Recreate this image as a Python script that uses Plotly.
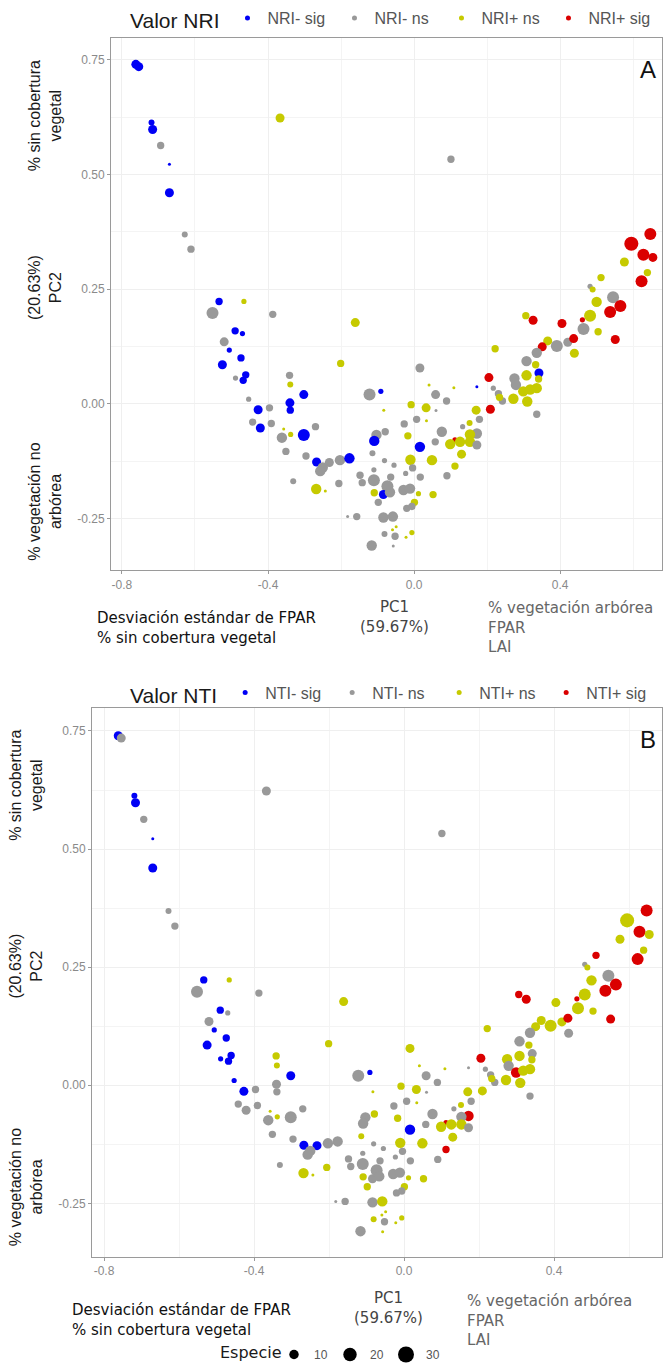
import math
import plotly.graph_objects as go

# ---------------- data (PCA scores, same sites in both panels) ----------------
pc1 = [-0.762, -0.754, -0.719, -0.716, -0.694, -0.670, -0.670, -0.367, 0.101, -0.628,
       -0.611, -0.534, -0.466, -0.552, -0.387, -0.161, -0.490, -0.470, -0.520, -0.506,
       -0.474, -0.201, -0.525, -0.461, -0.489, -0.468, -0.341, -0.339, -0.302, -0.122,
       -0.091, -0.453, -0.340, -0.396, -0.427, -0.339, -0.083, -0.442, -0.391, -0.270,
       -0.421, -0.357, -0.362, -0.338, -0.302, -0.079, -0.103, -0.109, -0.351, -0.296,
       -0.267, -0.232, -0.250, -0.257, -0.203, -0.177, -0.114, -0.081, -0.055, -0.110,
       -0.148, -0.110, -0.206, -0.331, -0.142, -0.073, -0.064, -0.268, -0.243, -0.109,
       -0.084, -0.066, -0.098, -0.182, -0.157, -0.084, -0.058, -0.059, -0.049, -0.081,
       -0.052, -0.057, -0.116, 0.016, -0.008, 0.033, 0.007, -0.027, -0.017, 0.016,
       -0.010, -0.004, 0.017, -0.023, -0.029, -0.011, 0.012, 0.001, -0.020, -0.006,
       -0.006, -0.022, 0.647, 0.595, 0.628, 0.654, 0.576, 0.512, 0.639, 0.623,
       0.482, 0.489, 0.545, 0.500, 0.565, 0.537, 0.482, 0.461, 0.464, 0.504,
       0.551, 0.306, 0.326, 0.405, 0.366, 0.391, 0.421, 0.437, 0.351, 0.439,
       0.336, 0.308, 0.333, 0.222, 0.205, 0.342, 0.308, 0.275, 0.341, 0.279,
       0.299, 0.318, 0.336, 0.272, 0.310, 0.217, 0.231, 0.242, 0.234, 0.336,
       0.209, 0.041, 0.109, 0.172, 0.059, 0.089, 0.060, 0.179, 0.170, 0.034,
       0.152, 0.076, 0.133, 0.172, 0.153, 0.112, 0.126, 0.099, 0.058, 0.153,
       0.172, 0.049, 0.052, 0.090, 0.112, 0.130]

pc2 = [0.740, 0.735, 0.613, 0.598, 0.563, 0.522, 0.460, 0.623, 0.533, 0.369,
       0.337, 0.223, 0.223, 0.198, 0.195, 0.177, 0.159, 0.153, 0.135, 0.117,
       0.100, 0.088, 0.085, 0.063, 0.056, 0.051, 0.062, 0.042, 0.020, 0.020,
       0.027, 0.010, 0.002, -0.009, -0.013, -0.014, -0.014, -0.040, -0.043, -0.050,
       -0.053, -0.055, -0.074, -0.067, -0.068, -0.061, -0.068, -0.081, -0.104, -0.114,
       -0.127, -0.128, -0.139, -0.147, -0.123, -0.119, -0.108, -0.124, -0.134, -0.144,
       -0.156, -0.167, -0.174, -0.169, -0.172, -0.180, -0.160, -0.186, -0.190, -0.194,
       -0.198, -0.193, -0.215, -0.246, -0.246, -0.248, -0.246, -0.275, -0.268, -0.284,
       -0.289, -0.310, -0.309, 0.078, -0.002, -0.009, -0.034, -0.044, -0.070, -0.094,
       -0.122, -0.140, -0.160, -0.152, -0.188, -0.185, -0.196, -0.215, -0.228, -0.224,
       -0.281, -0.291, 0.370, 0.349, 0.325, 0.319, 0.309, 0.275, 0.286, 0.267,
       0.256, 0.249, 0.232, 0.222, 0.213, 0.200, 0.192, 0.183, 0.163, 0.157,
       0.140, 0.192, 0.182, 0.175, 0.137, 0.126, 0.134, 0.142, 0.124, 0.110,
       0.111, 0.093, 0.085, 0.120, 0.057, 0.067, 0.062, 0.055, 0.054, 0.041,
       0.027, 0.031, 0.034, 0.011, 0.005, 0.034, 0.022, 0.006, 0.014, -0.023,
       -0.012, 0.041, 0.035, 0.037, 0.020, 0.006, -0.015, -0.034, -0.014, -0.037,
       -0.042, -0.061, -0.050, -0.065, -0.067, -0.079, -0.083, -0.088, -0.083, -0.083,
       -0.090, -0.123, -0.198, -0.157, -0.136, -0.110]

especie = [9, 9, 4, 9, 6, 1, 9, 9, 6, 4,
           6, 6, 3, 16, 6, 9, 6, 3, 9, 3,
           6, 6, 9, 6, 3, 6, 6, 4, 9, 16,
           3, 3, 9, 6, 9, 6, 1, 6, 6, 6,
           9, 1, 12, 3, 16, 6, 12, 12, 6, 6,
           9, 9, 12, 12, 12, 12, 4, 3, 3, 3,
           6, 16, 6, 4, 6, 16, 6, 12, 1, 6,
           9, 12, 6, 1, 6, 12, 12, 1, 1, 4,
           6, 1, 12, 9, 6, 9, 6, 6, 6, 12,
           12, 6, 6, 3, 12, 12, 3, 6, 6, 6,
           3, 1, 16, 22, 16, 9, 9, 6, 6, 16,
           3, 4, 16, 12, 16, 16, 16, 3, 16, 6,
           9, 6, 9, 9, 9, 16, 9, 9, 9, 9,
           12, 12, 6, 6, 9, 9, 12, 12, 6, 12,
           12, 12, 12, 12, 12, 3, 6, 6, 6, 6,
           9, 1, 1, 1, 9, 6, 1, 6, 9, 1,
           4, 12, 3, 12, 12, 3, 12, 12, 6, 12,
           9, 12, 6, 6, 6, 9]

# class index: 0 = "- sig", 1 = "- ns", 2 = "+ ns", 3 = "+ sig"
nri_class = [0, 0, 0, 0, 1, 0, 0, 2, 1, 1,
             1, 0, 2, 1, 1, 2, 0, 0, 1, 0,
             0, 2, 0, 0, 1, 0, 1, 2, 0, 1,
             0, 1, 0, 1, 0, 0, 2, 1, 1, 1,
             0, 2, 1, 2, 0, 1, 1, 0, 1, 1,
             0, 1, 1, 1, 1, 0, 1, 1, 1, 1,
             1, 1, 1, 1, 1, 1, 1, 2, 2, 2,
             0, 1, 1, 1, 1, 1, 1, 2, 2, 1,
             1, 1, 1, 1, 2, 2, 1, 1, 2, 0,
             2, 1, 1, 1, 1, 1, 2, 2, 1, 1,
             2, 2, 3, 3, 3, 3, 2, 2, 2, 3,
             1, 2, 1, 2, 3, 3, 2, 3, 1, 2,
             3, 2, 3, 3, 2, 1, 1, 3, 3, 2,
             1, 1, 2, 2, 3, 0, 2, 1, 2, 1,
             2, 2, 2, 2, 2, 1, 1, 1, 2, 1,
             3, 2, 2, 0, 1, 1, 1, 1, 2, 2,
             2, 1, 1, 1, 2, 3, 2, 2, 1, 2,
             1, 2, 2, 1, 2, 2]

nti_class = [0, 1, 0, 0, 1, 0, 0, 1, 1, 1,
             1, 0, 2, 1, 1, 2, 0, 1, 1, 0,
             0, 2, 0, 0, 0, 0, 2, 2, 0, 1,
             0, 0, 1, 1, 0, 1, 2, 1, 1, 1,
             1, 2, 1, 2, 1, 2, 1, 1, 1, 1,
             0, 0, 1, 1, 1, 1, 2, 1, 1, 1,
             1, 1, 2, 1, 1, 1, 1, 2, 2, 2,
             1, 1, 2, 1, 1, 1, 2, 2, 2, 2,
             1, 2, 1, 2, 2, 2, 1, 1, 2, 0,
             2, 1, 1, 1, 1, 1, 2, 2, 1, 1,
             2, 2, 3, 2, 3, 2, 2, 3, 2, 3,
             1, 2, 1, 2, 3, 3, 2, 3, 2, 2,
             3, 3, 3, 2, 2, 2, 2, 3, 2, 1,
             1, 1, 2, 2, 3, 1, 2, 2, 2, 1,
             3, 2, 2, 2, 2, 1, 1, 1, 2, 1,
             2, 2, 2, 1, 1, 1, 1, 1, 2, 2,
             2, 1, 1, 3, 1, 3, 2, 2, 1, 2,
             1, 2, 2, 1, 3, 2]

nri_labels = ["NRI- sig", "NRI- ns", "NRI+ ns", "NRI+ sig"]
nti_labels = ["NTI- sig", "NTI- ns", "NTI+ ns", "NTI+ sig"]
size_breaks = [10, 20, 30]
x_ticks = [-0.8, -0.4, 0.0, 0.4]
x_minor = [-0.6, -0.2, 0.2, 0.6]
y_ticks = [-0.25, 0.0, 0.25, 0.5, 0.75]
y_minor = [-0.125, 0.125, 0.375, 0.625]

# ---------------- styling ----------------
W, H = 669, 1369
class_colors = ["#0000F5", "#999999", "#C6CA00", "#DA0000"]
SIZE_K = 3.0


def dsize(v):
    return SIZE_K * math.sqrt(v)


def px(xp):
    return xp / W


def py(yp):
    return 1 - yp / H


TICKFONT = dict(family="Liberation Sans, Arial", size=12, color="#8A8A8A")
TXT = "DejaVu Sans, Verdana, sans-serif"
ARIAL = "Liberation Sans, Arial, sans-serif"

fig = go.Figure()

panels = [
    dict(cls=nri_class, labels=nri_labels, xa="x", ya="y", legend="legend"),
    dict(cls=nti_class, labels=nti_labels, xa="x2", ya="y2", legend="legend2"),
]

for p in panels:
    fig.add_trace(go.Scatter(
        x=pc1, y=pc2, mode="markers", xaxis=p["xa"], yaxis=p["ya"],
        marker=dict(size=[dsize(v) for v in especie],
                    color=[class_colors[c] for c in p["cls"]],
                    line=dict(width=0), opacity=1),
        showlegend=False, hoverinfo="skip"))
    for i, lab in enumerate(p["labels"]):
        fig.add_trace(go.Scatter(
            x=[None], y=[None], mode="markers", xaxis=p["xa"], yaxis=p["ya"],
            marker=dict(size=5, color=class_colors[i]), name=lab,
            legend=p["legend"], showlegend=True))

for v in size_breaks:
    fig.add_trace(go.Scatter(
        x=[None], y=[None], mode="markers", xaxis="x2", yaxis="y2",
        marker=dict(size=dsize(v), color="black"), name=str(v),
        legend="legend3", showlegend=True))

axis_common = dict(showline=True, linecolor="#9A9A9A", linewidth=1, mirror=True,
                   ticks="outside", ticklen=3, tickcolor="#9A9A9A", tickwidth=1,
                   showgrid=True, gridcolor="#EFEFEF", gridwidth=1, zeroline=False,
                   tickfont=TICKFONT)

xr_a = [-0.830, 0.679]
xr_b = [-0.832, 0.688]
yr = [-0.363, 0.798]

legend_font = dict(family=ARIAL, size=16, color="#555555")

fig.update_layout(
    width=W, height=H, margin=dict(l=0, r=0, t=0, b=0),
    paper_bgcolor="white", plot_bgcolor="white",
    xaxis=dict(domain=[px(111), px(662)], range=xr_a, anchor="y", tickvals=x_ticks,
               ticktext=["-0.8", "-0.4", "0.0", "0.4"],
               minor=dict(tickvals=x_minor, showgrid=True, gridcolor="#F4F4F4", ticks=""),
               **axis_common),
    yaxis=dict(domain=[py(574), py(38)], range=yr, anchor="x", tickvals=y_ticks,
               ticktext=["-0.25", "0.00", "0.25", "0.50", "0.75"],
               minor=dict(tickvals=y_minor, showgrid=True, gridcolor="#F4F4F4", ticks=""),
               **axis_common),
    xaxis2=dict(domain=[px(92), px(662)], range=xr_b, anchor="y2", tickvals=x_ticks,
                ticktext=["-0.8", "-0.4", "0.0", "0.4"],
                minor=dict(tickvals=x_minor, showgrid=True, gridcolor="#F4F4F4", ticks=""),
                **axis_common),
    yaxis2=dict(domain=[py(1265), py(713)], range=yr, anchor="x2", tickvals=y_ticks,
                ticktext=["-0.25", "0.00", "0.25", "0.50", "0.75"],
                minor=dict(tickvals=y_minor, showgrid=True, gridcolor="#F4F4F4", ticks=""),
                **axis_common),
    legend=dict(orientation="h", x=px(128), y=py(1), xanchor="left", yanchor="top",
                title=dict(text="Valor NRI", side="left",
                           font=dict(family=ARIAL, size=21, color="#1A1A1A")),
                font=legend_font,
                bgcolor="rgba(0,0,0,0)", entrywidth=62, entrywidthmode="pixels",
                itemclick=False, itemdoubleclick=False),
    legend2=dict(orientation="h", x=px(128), y=py(680), xanchor="left", yanchor="top",
                 title=dict(text="Valor NTI", side="left",
                            font=dict(family=ARIAL, size=21, color="#1A1A1A")),
                 font=legend_font,
                 bgcolor="rgba(0,0,0,0)", entrywidth=62, entrywidthmode="pixels",
                 itemclick=False, itemdoubleclick=False),
    legend3=dict(orientation="h", x=px(274), y=py(1349), xanchor="left", yanchor="top",
                 font=dict(family=ARIAL, size=12, color="#555555"),
                 bgcolor="rgba(0,0,0,0)", entrywidth=11, entrywidthmode="pixels",
                 itemclick=False, itemdoubleclick=False),
)

anns = []


def add_text(xp, yp, text, size, color, family, angle=0, xanchor="center", align="center"):
    anns.append(dict(x=px(xp), y=py(yp), xref="paper", yref="paper", text=text,
                     showarrow=False, textangle=angle, xanchor=xanchor, yanchor="middle",
                     align=align, font=dict(size=size, color=color, family=family)))


# panel letters
add_text(648, 70, "A", 24, "#111111", ARIAL)
add_text(648, 744, "B", 24, "#111111", ARIAL)

# size legend title
add_text(284, 1361, "Especie", 16, "#1A1A1A", TXT, xanchor="right")

# rotated y-axis descriptions
for dx, (y1, y2, y3) in [(45, (117, 290, 505)), (26, (790, 972, 1195))]:
    add_text(dx, y1, "% sin cobertura<br>vegetal", 16, "#1A1A1A", ARIAL, angle=-90)
    add_text(dx, y2, "(20.63%)<br>PC2", 16, "#1A1A1A", ARIAL, angle=-90)
    add_text(dx, y3, "% vegetación no<br>arbórea", 16, "#1A1A1A", ARIAL, angle=-90)

# x-axis descriptions
for (xc, ytop, xl, yl, xr_, yr_) in [(394, 621, 95, 632, 486, 632), (388, 1317, 70, 1329, 465, 1329)]:
    add_text(xc, ytop, "PC1<br>(59.67%)", 15, "#444444", TXT)
    add_text(xl, yl, "Desviación estándar de FPAR<br>% sin cobertura vegetal", 15, "#111111", TXT,
             xanchor="left", align="left")
    add_text(xr_, yr_, "% vegetación arbórea<br>FPAR<br>LAI", 15, "#666666", TXT,
             xanchor="left", align="left")

fig.update_layout(annotations=anns)

fig.write_html("out.html",
               config={"displayModeBar": False},
               post_script="document.body.style.margin='0';document.body.style.overflow='hidden';")
